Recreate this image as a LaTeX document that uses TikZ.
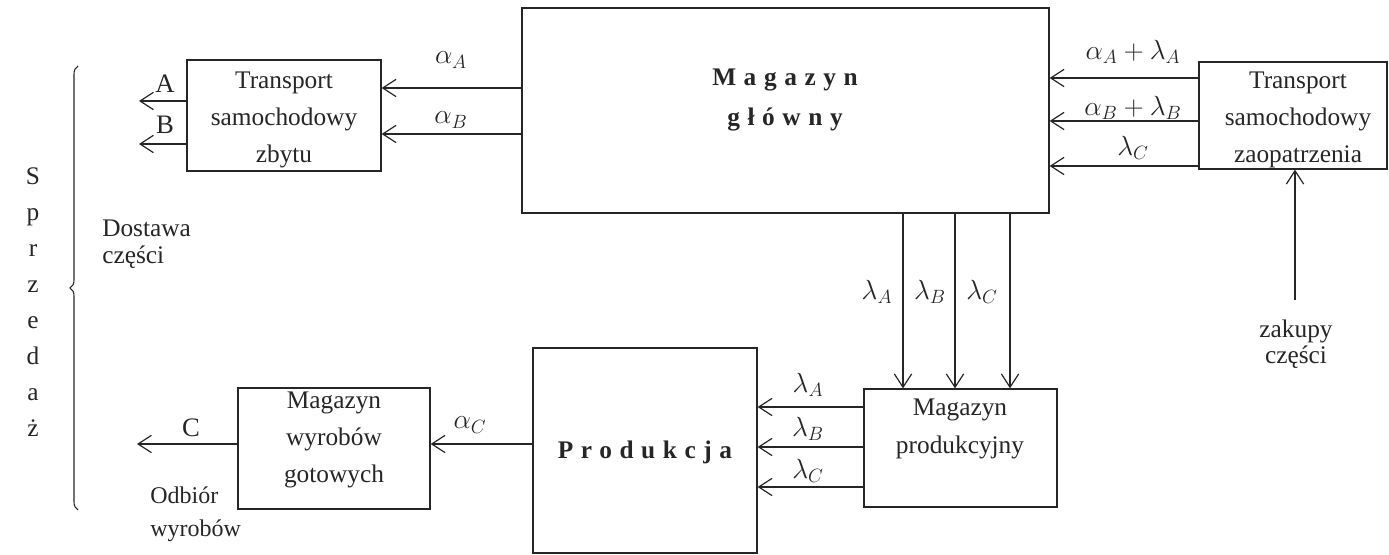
\documentclass[tikz,border=0pt]{standalone}
\usepackage{fontspec}
\setmainfont{Liberation Serif}
\newfontfamily\spacedfont[LetterSpace=30]{Liberation Serif}
\usetikzlibrary{arrows.meta,fit,decorations.pathreplacing}
\begin{document}
\begin{tikzpicture}[x=0.75pt,y=-0.75pt,
  box/.style={draw=black!85, line width=1pt, inner sep=0pt},
  arr/.style={draw=black!85, line width=0.9pt, -{Straight Barb[length=10pt,width=13pt,line width=0.9pt]}},
  txt/.style={text=black!85, font=\fontsize{19}{28}\selectfont, align=center, inner sep=0pt},
  sp/.style={text=black!85, font=\spacedfont\bfseries\fontsize{19}{30}\selectfont, align=center, inner sep=0pt},
  lbl/.style={text=black!85, font=\fontsize{20}{22}\selectfont, inner sep=0pt}
]
\useasboundingbox (0,0) rectangle (1389,555);

% boxes
\node[box, fit={(522,8) (1049,213)}] (mg) {};
\node[sp] (mgt) at (785,100) {Magazyn\\główny};

\node[box, fit={(187,60) (381,171)}] (tsz) {};
\node[txt] (tszt) at (284,120) {Transport\\samochodowy\\zbytu};

\node[box, fit={(1199,62) (1387,169)}] (tzp) {};
\node[txt] (tzpt) at (1298,120) {Transport\\samochodowy\\zaopatrzenia};

\node[box, fit={(864,389) (1057,507)}] (mp) {};
\node[txt] (mpt) at (960,429) {Magazyn\\produkcyjny};

\node[box, fit={(533,348) (757,553)}] (pr) {};
\node[sp] (prt) at (645,452) {Produkcja};

\node[box, fit={(238,388) (430,509)}] (mwg) {};
\node[txt] (mwgt) at (334,440) {Magazyn\\wyrobów\\gotowych};

% main -> transport zbytu
\draw[arr] (mg.west |- 0,88) -- (tsz.east |- 0,88);
\draw[arr] (mg.west |- 0,134) -- (tsz.east |- 0,134);
\node[lbl] (la) at (451,60) {$\alpha_A$};
\node[lbl] (lb) at (451,120) {$\alpha_B$};

% A, B outputs
\coordinate (aend) at (139,101);
\coordinate (bend) at (139,144);
\draw[arr] (tsz.west |- aend) -- (aend);
\draw[arr] (tsz.west |- bend) -- (bend);
\node[lbl] (lA) at (165,84) {A};
\node[lbl] (lB) at (165,125) {B};

% transport zaopatrzenia -> main
\draw[arr] (tzp.west |- 0,78) -- (mg.east |- 0,78);
\draw[arr] (tzp.west |- 0,121) -- (mg.east |- 0,121);
\draw[arr] (tzp.west |- 0,166) -- (mg.east |- 0,166);
\node[lbl] (r1) at (1133,52) {$\alpha_A+\lambda_A$};
\node[lbl] (r2) at (1133,108) {$\alpha_B+\lambda_B$};
\node[lbl] (r3) at (1133,148) {$\lambda_C$};

% zakupy
\coordinate (zk) at (1295,300);
\draw[arr] (zk) -- (zk |- tzp.south);
\node[txt, font=\fontsize{19}{19.5}\selectfont] (zkt) at (1296,344) {zakupy\\części};

% main -> magazyn produkcyjny
\draw[arr] (903,0 |- mg.south) -- (903,0 |- mp.north);
\draw[arr] (955,0 |- mg.south) -- (955,0 |- mp.north);
\draw[arr] (1010,0 |- mg.south) -- (1010,0 |- mp.north);
\node[lbl] (v1) at (877,292) {$\lambda_A$};
\node[lbl] (v2) at (930,292) {$\lambda_B$};
\node[lbl] (v3) at (982,292) {$\lambda_C$};

% magazyn produkcyjny -> produkcja
\draw[arr] (mp.west |- 0,407) -- (pr.east |- 0,407);
\draw[arr] (mp.west |- 0,447) -- (pr.east |- 0,447);
\draw[arr] (mp.west |- 0,487) -- (pr.east |- 0,487);
\node[lbl] (p1) at (808,385) {$\lambda_A$};
\node[lbl] (p2) at (808,429) {$\lambda_B$};
\node[lbl] (p3) at (808,471) {$\lambda_C$};

% produkcja -> magazyn wyrobow
\draw[arr] (pr.west |- 0,444) -- (mwg.east |- 0,444);
\node[lbl] (lc) at (470,425) {$\alpha_C$};

\coordinate (cend) at (137,444);
\draw[arr] (mwg.west |- cend) -- (cend);
\node[lbl] (lC) at (191,428) {C};

% side texts
\node[txt, align=left, anchor=west, font=\fontsize{19}{20}\selectfont] (dost) at (102,244) {Dostawa\\części};
\node[txt, align=left, anchor=west, font=\fontsize{18}{25}\selectfont] (odb) at (150,514) {Odbiór\\wyrobów};
\node[txt, font=\fontsize{19}{27}\selectfont] (spr) at (33,302) {S\\p\\r\\z\\e\\d\\a\\ż};

% brace
\draw[black!85, line width=0.8pt, decorate, decoration={brace, amplitude=6pt, aspect=0.5}] (78,510) -- (78,66);
\end{tikzpicture}
\end{document}
